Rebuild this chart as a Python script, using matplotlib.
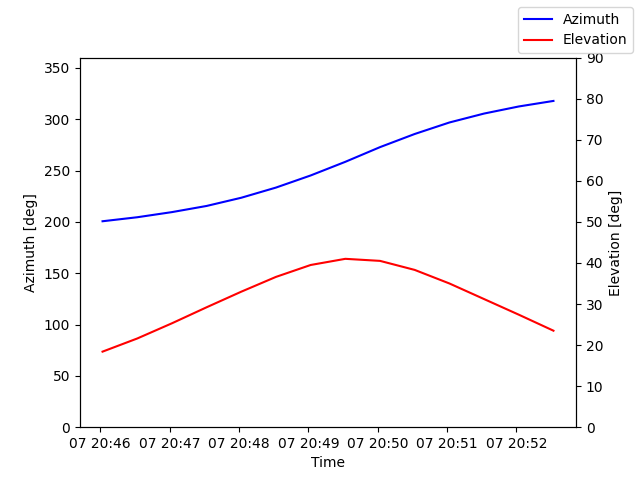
import matplotlib
matplotlib.use("Agg")
import matplotlib.pyplot as plt
import pandas as pd

# 30秒ごとのサンプル
time = pd.date_range("2023-06-07 20:46:02", periods=14, freq="30s")
azimuth = [200.6, 204.5, 209.5, 215.5, 223.5, 233.4, 245.2, 258.5, 272.8, 285.6, 296.8, 305.5, 312.4, 317.8]
elevation = [18.4, 21.6, 25.3, 29.2, 33.0, 36.6, 39.5, 41.0, 40.5, 38.3, 35.0, 31.2, 27.4, 23.5]

fig, ax1 = plt.subplots(figsize=(6.4, 4.8))
ax1.plot(time, azimuth, color="blue", label="Azimuth")
ax1.set_ylim(0, 360)
ax1.set_xlabel("Time")
ax1.set_ylabel("Azimuth [deg]")

ax2 = ax1.twinx()
ax2.plot(time, elevation, color="red", label="Elevation")
ax2.set_ylim(0, 90)
ax2.set_ylabel("Elevation [deg]")

fig.legend()
plt.savefig("out.png")
